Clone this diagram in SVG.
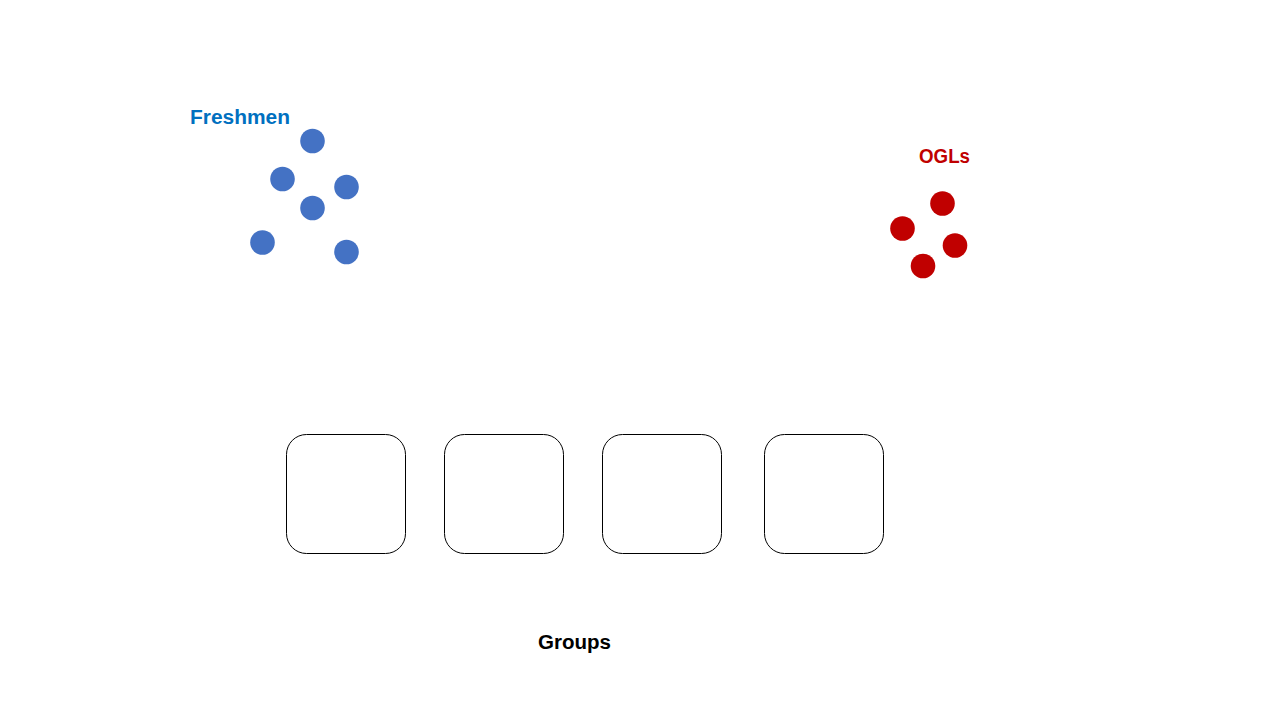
<svg xmlns="http://www.w3.org/2000/svg" width="1280" height="720" viewBox="0 0 1280 720">
<style>
.lbl{font-family:"Liberation Sans",Arial,sans-serif;font-weight:bold;font-size:20px}
.fr{fill:#4472C4}
.og{fill:#C00000}
.box{fill:#fff;stroke:#000;stroke-width:1}
</style>
<rect width="1280" height="720" fill="#fff"/>
<g id="freshmen">
<text class="lbl" x="190" y="124" fill="#0070C0" textLength="100" lengthAdjust="spacingAndGlyphs">Freshmen</text>
<circle class="fr" cx="312.5" cy="141" r="12.3"/>
<circle class="fr" cx="282.5" cy="179" r="12.3"/>
<circle class="fr" cx="346.5" cy="187" r="12.3"/>
<circle class="fr" cx="312.5" cy="208" r="12.3"/>
<circle class="fr" cx="262.5" cy="242.5" r="12.3"/>
<circle class="fr" cx="346.5" cy="252" r="12.3"/>
</g>
<g id="ogls">
<text class="lbl" x="919" y="163" fill="#C00000" textLength="51" lengthAdjust="spacingAndGlyphs">OGLs</text>
<circle class="og" cx="942.5" cy="203.5" r="12.3"/>
<circle class="og" cx="902.5" cy="228.5" r="12.3"/>
<circle class="og" cx="955" cy="245.5" r="12.3"/>
<circle class="og" cx="923" cy="266" r="12.3"/>
</g>
<g id="groups">
<rect id="group1" class="box" x="286.5" y="434.5" width="119" height="119" rx="20"/>
<rect id="group2" class="box" x="444.5" y="434.5" width="119" height="119" rx="20"/>
<rect id="group3" class="box" x="602.5" y="434.5" width="119" height="119" rx="20"/>
<rect id="group4" class="box" x="764.5" y="434.5" width="119" height="119" rx="20"/>
<text class="lbl" x="538" y="649" fill="#000" textLength="73" lengthAdjust="spacingAndGlyphs">Groups</text>
</g>
<g id="connectors"/>
</svg>
